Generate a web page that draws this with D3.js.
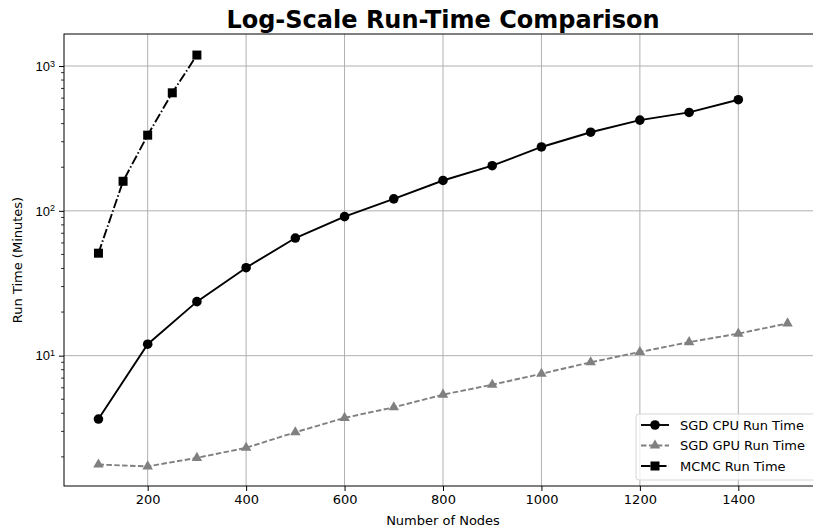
<!DOCTYPE html>
<html>
<head>
<meta charset="utf-8">
<script src="https://cdn.jsdelivr.net/npm/d3@7"></script>
<style>
    body { margin: 0; background: #fff; }
    svg { display: block; font-family: "DejaVu Sans", sans-serif; }
</style>
</head>
<body>
<div id="content"></div>
<script>
/*
    Chart data
*/
var cpuNodes = [100, 200, 300, 400, 500, 600, 700, 800, 900, 1000, 1100, 1200, 1300, 1400];
var cpuTimes = [3.65, 12.0, 23.6, 40.5, 64.9, 91.2, 121, 162, 205, 276, 349, 423, 478, 585];

var gpuNodes = [100, 200, 300, 400, 500, 600, 700, 800, 900, 1000, 1100, 1200, 1300, 1400, 1500];
var gpuTimes = [1.77, 1.72, 1.97, 2.31, 2.96, 3.72, 4.4, 5.38, 6.3, 7.5, 9.0, 10.6, 12.4, 14.2, 16.7];

var mcmcNodes = [100, 150, 200, 250, 300];
var mcmcTimes = [51, 160, 333, 653, 1190];

var xTicks = [200, 400, 600, 800, 1000, 1200, 1400];
var yTicks = [10, 100, 1000];
var seriesNames = ["SGD CPU Run Time", "SGD GPU Run Time", "MCMC Run Time"];
/*
    Figure dimensions (the right spine sits just off the canvas)
*/
var realW = 813, realH = 529,
    margin = { top: 34, right: -9, bottom: 43, left: 64 },
    w = realW - margin.left - margin.right,
    h = realH - margin.top - margin.bottom;

var svg = d3.select("#content").append("svg")
    .attr("width", realW)
    .attr("height", realH);

/*
    Scales, with matplotlib style 5% padding
*/
var xScale = d3.scaleLinear()
    .domain([30, 1570])
    .range([margin.left, margin.left + w]);

var yScale = d3.scaleLog()
    .domain([Math.pow(10, 0.1), Math.pow(10, 3.221)])
    .range([margin.top + h, margin.top]);

var plot = svg.append("g");

/*
    Grid lines
*/
plot.append("g").selectAll("line")
    .data(xTicks).enter().append("line")
    .attr("x1", function (d) { return xScale(d); })
    .attr("x2", function (d) { return xScale(d); })
    .attr("y1", margin.top).attr("y2", margin.top + h)
    .style("stroke", "#b0b0b0").style("stroke-width", 1);

plot.append("g").selectAll("line")
    .data(yTicks).enter().append("line")
    .attr("x1", margin.left).attr("x2", margin.left + w)
    .attr("y1", function (d) { return yScale(d); })
    .attr("y2", function (d) { return yScale(d); })
    .style("stroke", "#b0b0b0").style("stroke-width", 1);

/*
    Axes
*/
var xAxis = d3.axisBottom(xScale)
    .tickValues(xTicks)
    .tickSize(5)
    .tickPadding(4)
    .tickFormat(d3.format("d"));

svg.append("g")
    .attr("transform", "translate(0," + (margin.top + h) + ")")
    .call(xAxis)
    .call(function (g) {
        g.select(".domain").remove();
        g.selectAll("text").style("font-size", "13px").style("fill", "#000")
            .style("font-family", "DejaVu Sans");
    });

// minor ticks on the log axis
var minor = [];
for (var e = 0; e <= 3; e++) {
    for (var m = 2; m <= 9; m++) {
        var v = m * Math.pow(10, e);
        if (v > yScale.domain()[0] && v < yScale.domain()[1]) minor.push(v);
    }
}
svg.append("g").selectAll("line")
    .data(minor).enter().append("line")
    .attr("x1", margin.left - 3).attr("x2", margin.left)
    .attr("y1", function (d) { return yScale(d); })
    .attr("y2", function (d) { return yScale(d); })
    .style("stroke", "#000").style("stroke-width", 0.8);

var yAxis = d3.axisLeft(yScale)
    .tickValues(yTicks)
    .tickSize(5)
    .tickPadding(4)
    .tickFormat("");

var yG = svg.append("g")
    .attr("transform", "translate(" + margin.left + ",0)")
    .call(yAxis);
yG.select(".domain").remove();
yG.selectAll(".tick").append("text")
    .attr("x", -9)
    .attr("dy", "0.32em")
    .attr("text-anchor", "end")
    .style("font-size", "13px")
    .style("fill", "#000")
    .each(function (d) {
        var t = d3.select(this);
        t.append("tspan").text("10");
        t.append("tspan").attr("dy", "-0.45em").style("font-size", "9px")
            .text(Math.round(Math.log10(d)));
    });

// frame
svg.append("rect")
    .attr("x", margin.left).attr("y", margin.top)
    .attr("width", w).attr("height", h)
    .style("fill", "none").style("stroke", "#000").style("stroke-width", 1);

/*
    Series lines and markers
*/
var line = d3.line()
    .x(function (d) { return xScale(d[0]); })
    .y(function (d) { return yScale(d[1]); });

var cpu = d3.zip(cpuNodes, cpuTimes),
    gpu = d3.zip(gpuNodes, gpuTimes),
    mcmc = d3.zip(mcmcNodes, mcmcTimes);

var series = [
    { data: cpu, color: "#000", dash: null, symbol: d3.symbolCircle, size: 72 },
    { data: gpu, color: "#808080", dash: "5.5,2.4", symbol: d3.symbolTriangle, size: 48 },
    { data: mcmc, color: "#000", dash: "9.6,2.4,1.5,2.4", symbol: d3.symbolSquare, size: 81 }
];

series.forEach(function (s) {
    plot.append("path")
        .attr("d", line(s.data))
        .style("fill", "none")
        .style("stroke", s.color)
        .style("stroke-width", 1.9)
        .style("stroke-dasharray", s.dash);
    plot.append("g").selectAll("path")
        .data(s.data).enter().append("path")
        .attr("transform", function (d) {
            return "translate(" + xScale(d[0]) + "," + yScale(d[1]) + ")";
        })
        .attr("d", d3.symbol().type(s.symbol).size(s.size))
        .style("fill", s.color);
});

/*
    Legend
*/
var legend = svg.append("g").attr("transform", "translate(636,414)");
legend.append("rect")
    .attr("width", 190).attr("height", 66)
    .attr("rx", 3).attr("ry", 3)
    .style("fill", "#fff").style("fill-opacity", 0.8)
    .style("stroke", "#d6d6d6").style("stroke-width", 1);

series.forEach(function (s, i) {
    var ly = 11 + i * 20.5;
    legend.append("line")
        .attr("x1", 5).attr("x2", 33)
        .attr("y1", ly).attr("y2", ly)
        .style("stroke", s.color).style("stroke-width", 1.9)
        .style("stroke-dasharray", s.dash);
    legend.append("path")
        .attr("transform", "translate(19," + ly + ")")
        .attr("d", d3.symbol().type(s.symbol).size(s.size))
        .style("fill", s.color);
    legend.append("text")
        .attr("x", 44).attr("y", ly)
        .attr("dy", "0.35em")
        .style("font-size", "13px")
        .text(seriesNames[i]);
});

/*
    Title and axis labels
*/
svg.append("text")
    .attr("x", xScale(800)).attr("y", 28)
    .attr("text-anchor", "middle")
    .style("font-size", "24px").style("font-weight", "bold")
    .text("Log-Scale Run-Time Comparison");

svg.append("text")
    .attr("x", xScale(800)).attr("y", 525)
    .attr("text-anchor", "middle")
    .style("font-size", "13px")
    .text("Number of Nodes");

svg.append("text")
    .attr("transform", "translate(22," + (margin.top + h / 2) + ") rotate(-90)")
    .attr("text-anchor", "middle")
    .style("font-size", "13px")
    .text("Run Time (Minutes)");
</script>
</body>
</html>
